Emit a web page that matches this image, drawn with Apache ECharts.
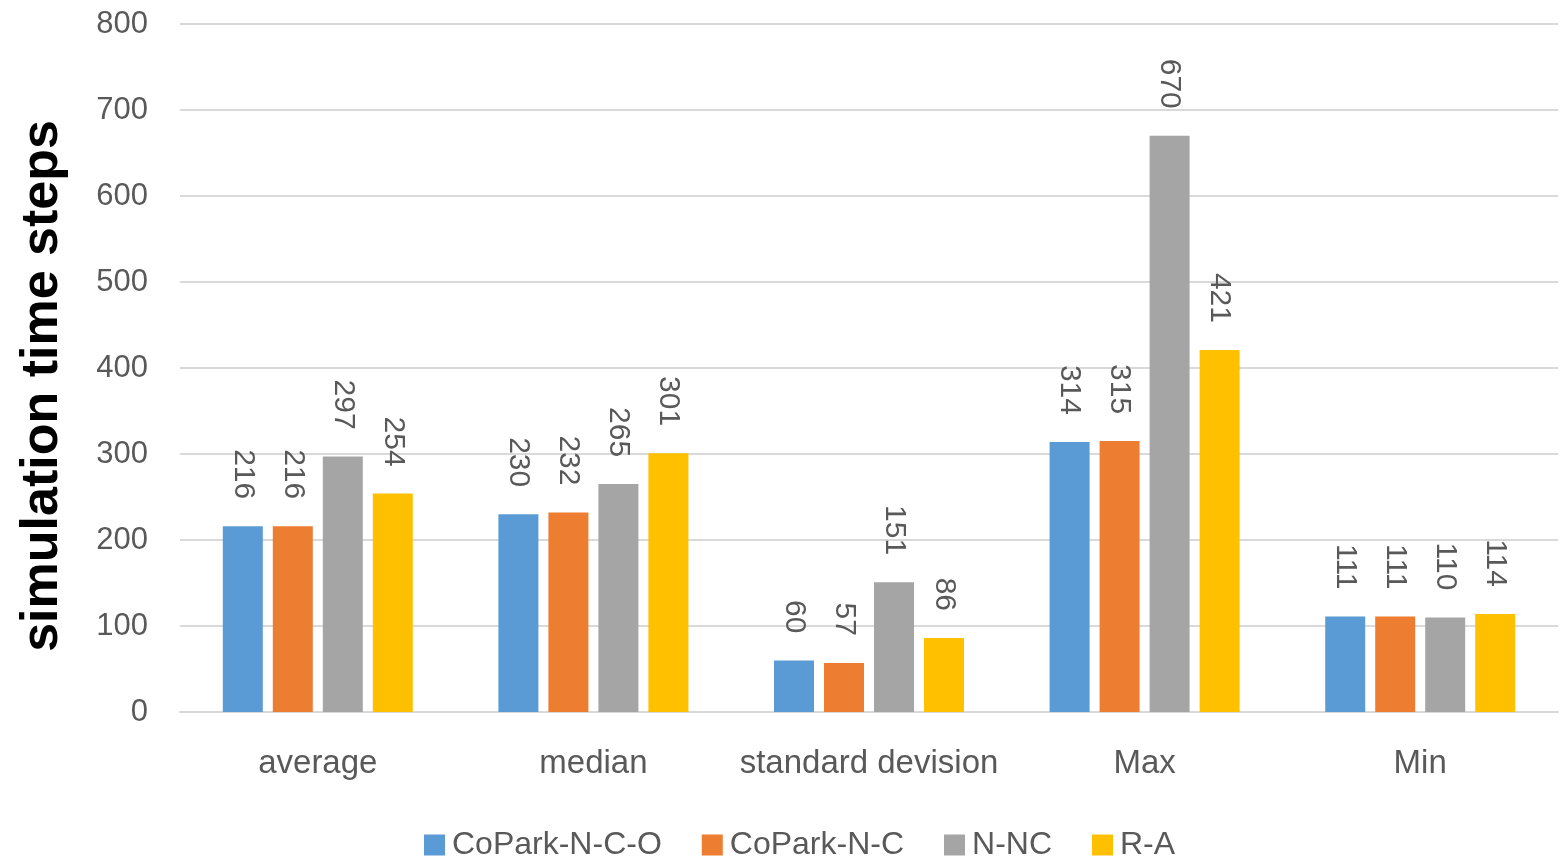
<!DOCTYPE html>
<html>
<head>
<meta charset="utf-8">
<script src="https://cdn.jsdelivr.net/npm/echarts@6/dist/echarts.min.js"></script>
<style>
  html, body { margin: 0; padding: 0; background: #fff; }
  #chart { width: 1566px; height: 859px; }
</style>
</head>
<body>
<div id="chart"></div>
<script>
// Metric groups along the x axis
const categories = ['average', 'median', 'standard devision', 'Max', 'Min'];

// One array per method
const seriesNames = ['CoPark-N-C-O', 'CoPark-N-C', 'N-NC', 'R-A'];
const coparkNCO = [216, 230, 60, 314, 111];
const coparkNC  = [216, 232, 57, 315, 111];
const nNC       = [297, 265, 151, 670, 110];
const rA        = [254, 301, 86, 421, 114];

const yTicks = { min: 0, max: 800, interval: 100 };

const colors = ['#5B9BD5', '#ED7D31', '#A5A5A5', '#FFC000'];
const values = [coparkNCO, coparkNC, nNC, rA];

const textColor = '#595959';
const font = 'Liberation Sans, Arial, sans-serif';

const chart = echarts.init(document.getElementById('chart'));

const series = values.map((data, i) => ({
  name: seriesNames[i],
  type: 'bar',
  data: data,
  barWidth: 40,
  barGap: '25%',
  itemStyle: { color: colors[i] },
  label: {
    show: true,
    position: 'top',
    rotate: -90,
    align: 'right',
    verticalAlign: 'middle',
    distance: 27,
    color: textColor,
    fontSize: 30,
    fontFamily: font
  }
}));

chart.setOption({
  animation: false,
  backgroundColor: '#ffffff',
  grid: { left: 180, right: 8, top: 24, bottom: 147, containLabel: false },
  legend: {
    bottom: -7,
    left: 419,
    itemWidth: 21,
    itemHeight: 21,
    itemGap: 40,
    icon: 'rect',
    textStyle: { color: textColor, fontSize: 32, fontFamily: font, padding: [0, 0, 0, 2] },
    data: seriesNames
  },
  xAxis: {
    type: 'category',
    data: categories,
    axisLine: { show: true, lineStyle: { color: '#d9d9d9', width: 2 } },
    axisTick: { show: false },
    axisLabel: { color: textColor, fontSize: 33, fontFamily: font, margin: 35, interval: 0 }
  },
  yAxis: {
    type: 'value',
    min: yTicks.min,
    max: yTicks.max,
    interval: yTicks.interval,
    name: 'simulation time steps',
    nameLocation: 'middle',
    nameGap: 111,
    nameTextStyle: {
      color: '#000', fontSize: 52, fontWeight: 'bold', fontFamily: font,
      padding: [0, 36, 0, 0]
    },
    axisLine: { show: false },
    axisTick: { show: false },
    axisLabel: { color: textColor, fontSize: 31, fontFamily: font, margin: 32 },
    splitLine: { lineStyle: { color: '#d9d9d9', width: 2 } }
  },
  series: series
});
</script>
</body>
</html>
